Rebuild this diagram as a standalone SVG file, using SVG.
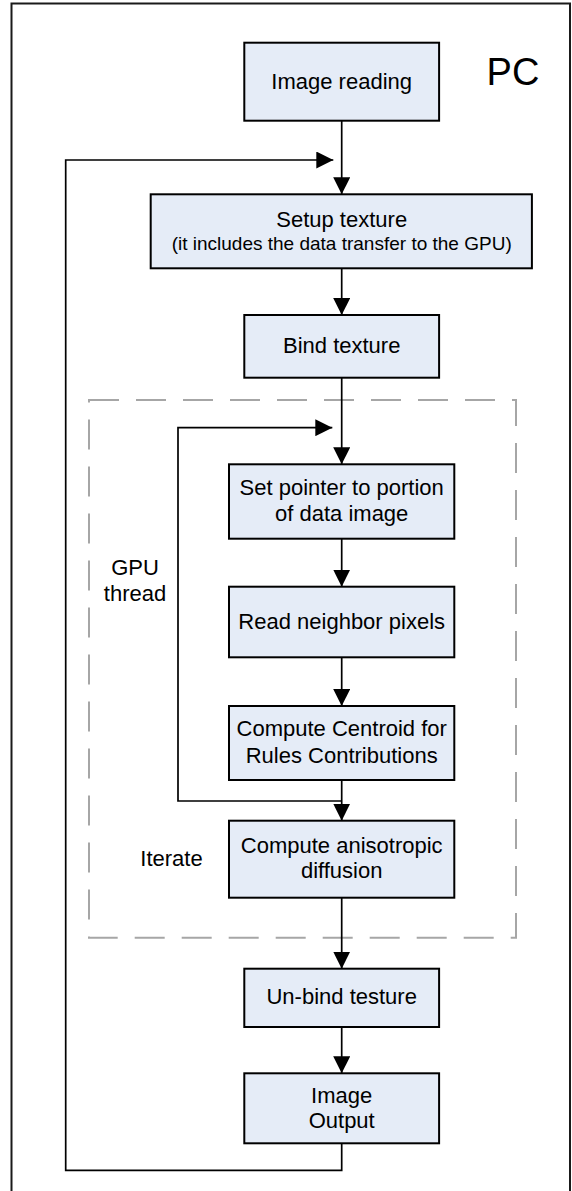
<svg xmlns="http://www.w3.org/2000/svg" width="572" height="1191" viewBox="0 0 572 1191">
  <style>
    .frame { fill: none; stroke: #1a1a1a; stroke-width: 2; }
    .box { fill: #e5ecf7; stroke: #000; stroke-width: 2; }
    .zone { fill: none; stroke: #a6a6a6; stroke-width: 2; stroke-dasharray: 30 17; }
    .wire { fill: none; stroke: #000; stroke-width: 1.7; }
    .lbl { font-family: "Liberation Sans", Arial, sans-serif; font-size: 22px; fill: #000; text-anchor: middle; }
    .small { font-size: 19px; }
    .big { font-size: 38px; }
  </style>
  <defs>
    <marker id="head" markerUnits="userSpaceOnUse" markerWidth="18" markerHeight="17" refX="17" refY="8.5" orient="auto">
      <path d="M0,0 L17,8.5 L0,17 Z" fill="#000"/>
    </marker>
  </defs>

  <!-- outer PC frame (bottom edge runs past the page) -->
  <rect class="frame" x="11.5" y="3.5" width="558.5" height="1192"/>
  <text class="lbl big" x="513" y="85">PC</text>

  <!-- GPU thread region -->
  <rect class="zone" x="89" y="400" width="427" height="537.7"/>
  <text class="lbl" x="135" y="574.5">GPU</text>
  <text class="lbl" x="135" y="601">thread</text>
  <text class="lbl" x="171.5" y="866">Iterate</text>

  <!-- connectors -->
  <g id="connectors">
    <path class="wire" d="M341.7,120.7 V194.3" marker-end="url(#head)"/>
    <path class="wire" d="M341.7,1143.3 V1170.3 H65.7 V160 H333.3" marker-end="url(#head)"/>
    <path class="wire" d="M341.7,268.3 V315" marker-end="url(#head)"/>
    <path class="wire" d="M341.7,377.7 V464.3" marker-end="url(#head)"/>
    <path class="wire" d="M341.7,801 H178 V427.7 H332.3" marker-end="url(#head)"/>
    <path class="wire" d="M341.7,538.7 V586.7" marker-end="url(#head)"/>
    <path class="wire" d="M341.7,657.3 V706" marker-end="url(#head)"/>
    <path class="wire" d="M341.7,780 V820.7" marker-end="url(#head)"/>
    <path class="wire" d="M341.7,897.7 V968.7" marker-end="url(#head)"/>
    <path class="wire" d="M341.7,1027 V1073.3" marker-end="url(#head)"/>
  </g>

  <!-- process steps -->
  <g id="image-reading">
    <rect class="box" x="244.3" y="42.7" width="194.8" height="78"/>
    <text class="lbl" x="341.7" y="89">Image reading</text>
  </g>
  <g id="setup-texture">
    <rect class="box" x="150.7" y="194.3" width="381.2" height="74"/>
    <text class="lbl" x="341.7" y="227">Setup texture</text>
    <text class="lbl small" x="341.7" y="250">(it includes the data transfer to the GPU)</text>
  </g>
  <g id="bind-texture">
    <rect class="box" x="244.3" y="315" width="194.8" height="62.7"/>
    <text class="lbl" x="341.7" y="353">Bind texture</text>
  </g>
  <g id="set-pointer">
    <rect class="box" x="229" y="464.3" width="225.3" height="74.4"/>
    <text class="lbl" x="341.7" y="495">Set pointer to portion</text>
    <text class="lbl" x="341.7" y="521">of data image</text>
  </g>
  <g id="read-neighbors">
    <rect class="box" x="229" y="586.7" width="225.3" height="70.6"/>
    <text class="lbl" x="341.7" y="629">Read neighbor pixels</text>
  </g>
  <g id="compute-centroid">
    <rect class="box" x="229" y="706" width="225.3" height="74"/>
    <text class="lbl" x="341.7" y="736">Compute Centroid for</text>
    <text class="lbl" x="341.7" y="763">Rules Contributions</text>
  </g>
  <g id="anisotropic-diffusion">
    <rect class="box" x="229" y="820.7" width="225.3" height="77"/>
    <text class="lbl" x="341.7" y="853">Compute anisotropic</text>
    <text class="lbl" x="341.7" y="878">diffusion</text>
  </g>
  <g id="unbind-texture">
    <rect class="box" x="244.3" y="968.7" width="194.8" height="58.3"/>
    <text class="lbl" x="341.7" y="1004">Un-bind testure</text>
  </g>
  <g id="image-output">
    <rect class="box" x="244.3" y="1073.3" width="194.8" height="70"/>
    <text class="lbl" x="341.7" y="1103">Image</text>
    <text class="lbl" x="341.7" y="1128">Output</text>
  </g>
</svg>
